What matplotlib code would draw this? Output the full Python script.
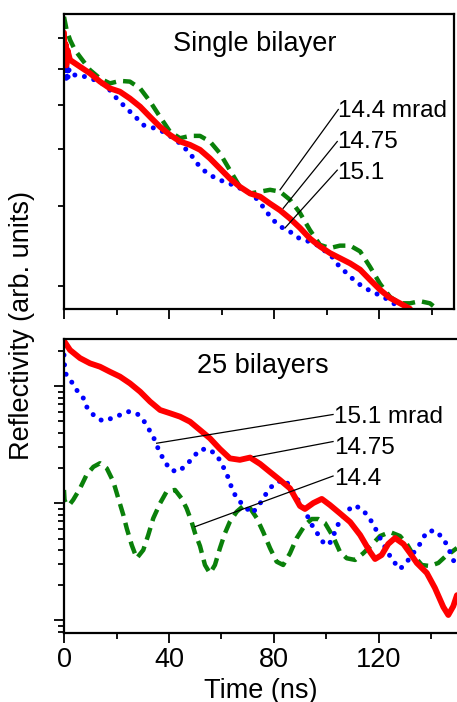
import numpy as np
import matplotlib
matplotlib.use("Agg")
import matplotlib.pyplot as plt
from matplotlib.ticker import LogLocator, NullFormatter, MultipleLocator

plt.rcParams['font.family'] = ['Liberation Sans', 'DejaVu Sans']

# ---------------- data: single bilayer (top panel) ----------------
top_t_1475 = [0, 0.3, 0.6, 0.9, 1.3, 2.3, 6.1, 9.9, 13.7, 17.5, 21.3, 25.1, 29.0, 32.8, 36.6,
              40.4, 44.2, 48.0, 51.8, 55.6, 59.4, 63.2, 67.0, 70.9, 74.7, 78.5, 82.3, 86.1,
              89.9, 93.7, 97.5, 101.3, 105.1, 109.0, 112.8, 116.6, 120.4, 124.2, 128.0, 131.8]
top_r_1475 = [7.2, 6.2, 6.8, 6.1, 6.6, 6.27, 6.06, 5.86, 5.62, 5.43, 5.34, 5.16, 4.95, 4.70, 4.47,
              4.29, 4.15, 4.08, 3.98, 3.81, 3.62, 3.44, 3.30, 3.19, 3.14, 3.03, 2.93, 2.81,
              2.68, 2.54, 2.44, 2.36, 2.30, 2.24, 2.17, 2.06, 1.96, 1.88, 1.83, 1.78]

top_t_144 = [0, 1.0, 2.3, 4.2, 6.1, 9.9, 13.7, 17.5, 21.3, 25.1, 29.0, 32.8, 36.6, 40.4, 44.2,
             48.0, 51.8, 55.6, 59.4, 63.2, 67.0, 70.9, 74.7, 78.5, 82.3, 86.1, 89.9, 93.7,
             97.5, 101.3, 105.1, 109.0, 112.8, 116.6, 120.4, 124.2, 128.0, 131.8, 135.6, 139.4, 142.0]
top_r_144 = [7.80, 7.30, 6.94, 6.59, 6.37, 5.96, 5.71, 5.57, 5.64, 5.62, 5.43, 5.08, 4.70, 4.36, 4.22,
             4.27, 4.27, 4.15, 3.91, 3.59, 3.30, 3.19, 3.22, 3.25, 3.22, 3.09, 2.89, 2.65,
             2.46, 2.42, 2.45, 2.45, 2.38, 2.20, 2.02, 1.89, 1.83, 1.83, 1.85, 1.83, 1.78]

top_t_151 = [0, 0.3, 0.6, 0.9, 1.2, 1.5, 1.8, 2.3, 6.1, 9.9, 13.7, 17.5, 20.1, 22.6, 25.1, 27.7,
             30.2, 32.8, 35.9, 38.5, 41.6, 44.2, 48.0, 50.6, 53.1, 56.9, 60.7, 64.5, 68.3, 72.1,
             75.3, 79.1, 82.3, 86.1, 88.6, 91.2, 93.7, 96.3, 98.8, 102.0, 104.5, 107.0, 109.6,
             112.8, 115.9, 119.1, 122.3, 125.4, 128.0]
top_r_151 = [7.0, 5.7, 6.6, 5.6, 6.3, 5.7, 6.0, 5.81, 5.81, 5.71, 5.62, 5.38, 5.16, 4.99, 4.83, 4.67,
             4.51, 4.47, 4.41, 4.34, 4.22, 4.11, 3.91, 3.72, 3.59, 3.47, 3.39, 3.33, 3.25, 3.17,
             3.01, 2.81, 2.70, 2.63, 2.56, 2.52, 2.50, 2.46, 2.40, 2.32, 2.22, 2.15, 2.08,
             2.01, 1.96, 1.92, 1.88, 1.83, 1.80]

# ---------------- data: 25 bilayers (bottom panel) ----------------
bot_t_1475 = [0, 2.3, 6.1, 9.9, 13.7, 17.5, 21.3, 25.1, 29.0, 32.8, 36.6, 40.4, 44.2, 48.0, 51.8,
              55.6, 59.4, 63.2, 67.0, 70.9, 74.7, 78.5, 82.3, 86.1, 89.9, 91.8, 95.0, 98.2, 101.3,
              105.1, 109.0, 112.8, 116.6, 118.5, 121.0, 123.5, 126.1, 129.3, 131.8, 134.4, 138.2,
              141.3, 144.5, 146.4, 148.3, 149.7]
bot_r_1475 = [244, 204, 174, 157, 147, 133, 121, 106, 89.9, 73.9, 62.7, 58.8, 55.0, 49.8, 42.3,
              35.9, 29.1, 24.2, 23.5, 24.6, 21.7, 18.5, 15.8, 13.4, 9.48, 8.94, 10.06, 10.9, 9.67,
              8.21, 6.92, 5.36, 3.84, 3.34, 3.61, 4.49, 5.05, 4.49, 3.76, 3.09, 2.54,
              1.89, 1.30, 1.11, 1.32, 1.64]

bot_t_151 = [0, 0.2, 0.4, 1.6, 2.9, 4.8, 7.4, 8.6, 10.6, 12.5, 15.0, 18.2, 21.3, 24.5, 27.7, 30.2,
             32.1, 34.0, 35.3, 36.6, 38.5, 40.4, 43.5, 46.7, 49.3, 51.8, 55.0, 58.2, 60.7, 62.6,
             63.9, 65.8, 68.3, 71.5, 74.0, 75.9, 78.5, 81.0, 84.2, 86.1, 88.6, 91.8, 93.7, 96.9,
             99.4, 101.3, 103.9, 105.1, 107.7, 110.2, 113.4, 115.9, 117.8, 120.4, 122.9, 124.8,
             128.0, 130.6, 133.1, 135.6, 138.2, 141.3, 144.5, 146.4, 148.3, 149.7]
bot_r_151 = [185, 152, 130, 120, 109, 93.0, 79.0, 66.9, 58.8, 53.3, 50.5, 53.3, 56.8, 60.7, 58.8, 51.5,
             43.8, 37.1, 31.5, 26.8, 22.7, 19.3, 18.6, 21.3, 24.9, 28.8, 29.1, 25.9, 20.4, 16.5,
             13.5, 11.0, 9.67, 8.21, 9.35, 11.1, 13.5, 15.2, 15.8, 13.9, 11.1, 8.76, 6.92, 5.36,
             4.40, 4.58, 6.15, 7.20, 8.48, 9.58, 9.03, 7.68, 6.65, 5.05, 3.99, 3.34,
             2.74, 3.15, 3.76, 4.49, 5.72, 5.85, 5.02, 4.15, 3.28, 2.80]

bot_t_144 = [0, 0.2, 1.0, 2.3, 3.5, 6.1, 8.6, 11.2, 13.7, 16.3, 18.8, 20.7, 22.6, 23.9, 25.8, 27.7,
             30.2, 32.1, 34.0, 36.6, 39.1, 42.3, 44.8, 46.7, 48.6, 49.9, 51.8, 53.7, 55.6, 57.5,
             59.4, 61.3, 63.2, 65.8, 68.3, 70.9, 73.4, 75.9, 78.5, 81.0, 83.5, 86.1, 88.6, 91.8,
             94.4, 96.9, 99.4, 102.6, 105.1, 107.7, 110.9, 114.0, 117.2, 120.4, 124.2, 128.0,
             130.6, 133.1, 136.3, 139.4, 142.6, 145.1, 147.7, 149.7]
bot_r_144 = [13.0, 10.7, 9.67, 9.86, 10.7, 13.4, 17.5, 20.5, 22.0, 19.9, 15.3, 11.0, 7.94, 6.11, 4.40, 3.39,
             3.99, 5.36, 7.44, 10.0, 12.6, 13.0, 11.0, 9.06, 6.96, 5.57, 4.32, 2.97, 2.52, 2.97,
             4.13, 5.54, 6.96, 8.48, 9.48, 9.06, 7.49, 5.68, 4.13, 3.17, 2.97, 3.74, 5.02, 6.52,
             7.34, 7.34, 6.79, 5.15, 3.86, 3.39, 3.28, 3.74, 4.40, 5.25, 5.68, 5.25,
             4.49, 3.61, 2.97, 2.91, 3.09, 3.48, 3.84, 4.15]

x_ticks = [0, 40, 80, 120]
x_tick_labels = ['0', '40', '80', '120']
top_labels = ['14.4 mrad', '14.75', '15.1']
bot_labels = ['15.1 mrad', '14.75', '14.4']

# ---------------- styles ----------------
RED = '#ff0000'
BLUE = '#0000ff'
GREEN = '#0a800a'

W, H = 457, 702
fig = plt.figure(figsize=(W / 100, H / 100), dpi=100)

def frac(x0, y0, x1, y1):
    return [x0 / W, 1 - y1 / H, (x1 - x0) / W, (y1 - y0) / H]

ax1 = fig.add_axes(frac(64, 14.3, 454, 309))
ax2 = fig.add_axes(frac(64, 339.3, 459, 633))

def draw(ax, t_r, r_r, t_b, r_b, t_g, r_g):
    ax.plot(t_g, r_g, color=GREEN, lw=3.2, linestyle=(0, (2.8, 1.6)), dash_capstyle='butt')
    ax.plot(t_b, r_b, color=BLUE, lw=3.6, linestyle=(0, (0.01, 1.95)), dash_capstyle='round')
    ax.plot(t_r, r_r, color=RED, lw=4.2, solid_capstyle='round')

draw(ax1, top_t_1475, top_r_1475, top_t_151, top_r_151, top_t_144, top_r_144)
draw(ax2, bot_t_1475, bot_r_1475, bot_t_151, bot_r_151, bot_t_144, bot_r_144)

ax1.set_xlim(0, 390 / 2.625)
ax2.set_xlim(0, 395 / 2.625)
ax1.set_yscale('log')
ax2.set_yscale('log')
ax1.set_ylim(1.778, 7.90)
ax2.set_ylim(0.779, 252)

for ax in (ax1, ax2):
    ax.set_xticks(x_ticks)
    ax.xaxis.set_minor_locator(MultipleLocator(20))
    ax.yaxis.set_major_locator(LogLocator(base=10, subs=(1.0,)))
    ax.yaxis.set_minor_locator(LogLocator(base=10, subs=np.arange(2, 10)))
    ax.yaxis.set_major_formatter(NullFormatter())
    ax.yaxis.set_minor_formatter(NullFormatter())
    ax.tick_params(which='major', direction='out', length=7, width=1.3, top=False, right=False)
    ax.tick_params(which='minor', direction='out', length=4, width=1.3, top=False, right=False)
    for s in ax.spines.values():
        s.set_linewidth(1.6)

ax1.set_xticklabels([])
ax2.set_xticklabels(x_tick_labels, fontsize=19.5)
ax2.tick_params(axis='x', which='major', pad=3)

# panel titles
ax1.text((173 - 64) / 2.625, 10 ** (0.8976 - (50.7 - 14.3) / 455), 'Single bilayer',
         fontsize=19.5, ha='left', va='baseline')
ax2.text((197 - 64) / 2.625, 10 ** (1 - (373.3 - 503.3) / 117), '25 bilayers',
         fontsize=19.5, ha='left', va='baseline')

# annotations top panel
top_line_from = [(82.3, 3.25), (83.5, 2.96), (84.2, 2.68)]
top_line_to = [(104.5, 4.88), (104.1, 4.15), (104.1, 3.59)]
top_text_y = [4.70, 4.01, 3.44]
for (x0, y0), (x1, y1), ty, lab in zip(top_line_from, top_line_to, top_text_y, top_labels):
    ax1.plot([x0, x1], [y0, y1], color='black', lw=0.9)
    ax1.text(104.2, ty, lab, fontsize=17.5, ha='left', va='baseline')

# annotations bottom panel
bot_line_from = [(35.3, 32.6), (72.1, 25.0), (49.9, 6.31)]
bot_line_to = [(102.5, 57.4), (102.5, 33.7), (102.5, 17.1)]
bot_text_y = [48.3, 26.4, 14.3]
for (x0, y0), (x1, y1), ty, lab in zip(bot_line_from, bot_line_to, bot_text_y, bot_labels):
    ax2.plot([x0, x1], [y0, y1], color='black', lw=0.9)
    ax2.text(103.0, ty, lab, fontsize=17.5, ha='left', va='baseline')

fig.text(22 / W, 1 - 325 / H, 'Reflectivity (arb. units)', rotation=90,
         fontsize=19.5, ha='center', va='center')
fig.text(261 / W, 1 - 697.5 / H, 'Time (ns)', fontsize=19.5, ha='center', va='baseline')

fig.savefig('out.png', dpi=100)
